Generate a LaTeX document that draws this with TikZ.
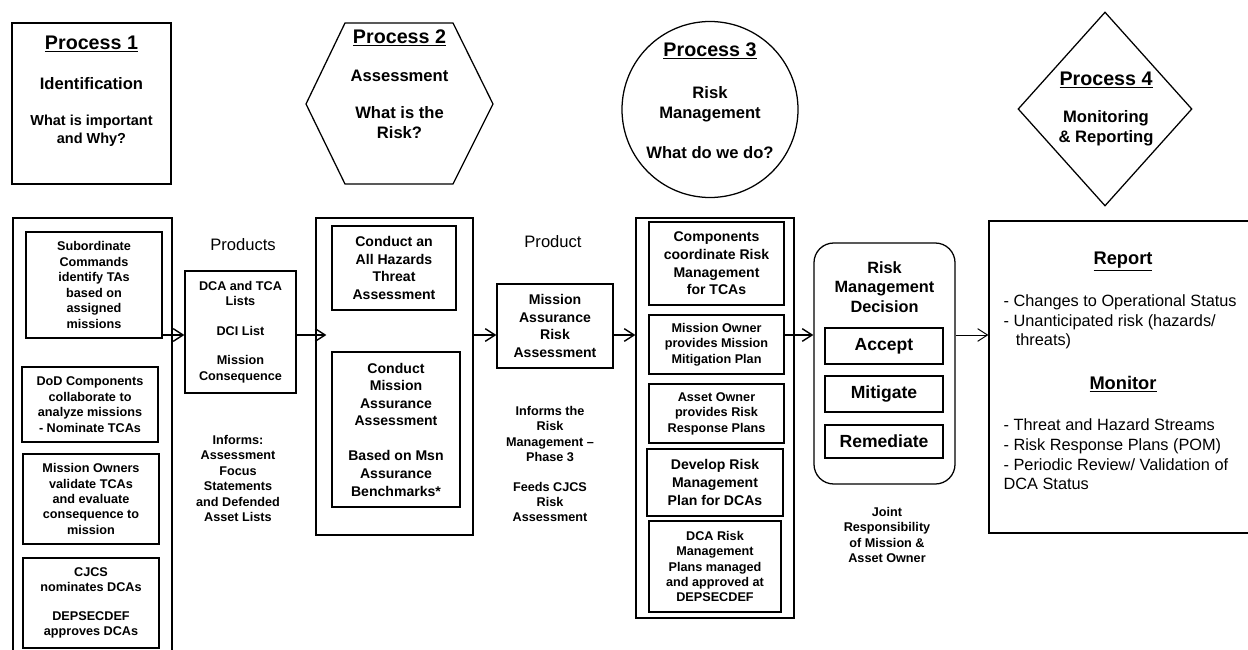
\documentclass[tikz,border=0pt]{standalone}
\usepackage{fontspec}
\setmainfont{Liberation Sans}
\usetikzlibrary{arrows.meta,positioning,shapes.geometric,calc}
\newcommand{\fsz}[2]{\fontsize{#1}{#2}\selectfont}

\begin{document}
\begin{tikzpicture}[x=0.025cm,y=-0.025cm,line width=0.9pt,
  sz/.style 2 args={minimum width=#1*0.025cm,minimum height=#2*0.025cm},
  wrap/.style={draw,inner sep=0pt},
  task/.style={draw,inner sep=0pt,align=center,font=\fsz{9}{11}\bfseries},
  taskb/.style={task,font=\fsz{10}{12.5}\bfseries},
  pick/.style={draw,inner sep=0pt,font=\fsz{12.5}{15}\bfseries},
  note/.style={align=center,inner sep=0pt,font=\fsz{9}{11}\bfseries},
  ptitle/.style={inner sep=0pt,font=\fsz{14}{17}\bfseries},
  psub/.style={align=center,inner sep=0pt,font=\fsz{11.8}{14}\bfseries},
  plain/.style={align=left,inner sep=0pt,anchor=west,font=\fsz{11.6}{14}},
  flow/.style={-{Straight Barb[length=7pt,width=9pt]},line width=1pt}]
\clip (0,0) rectangle (1248,650);
\fill[white] (0,0) rectangle (1248,650);

% process shapes
\node[wrap,sz={159}{161}] (p1) at (91.5,103.5) {};
\node[ptitle] (p1t) at (91.5,44) {\underline{Process 1}};
\node[psub] (p1s) at (91.5,84) {Identification};
\node[psub,font=\fsz{10.3}{12.8}\bfseries] (p1q) at (91.5,131) {What is important\\and Why?};

\draw (306,104) -- (345,23) -- (453,23) -- (493,104) -- (453,184) -- (345,184) -- cycle;
\node[ptitle] (p2t) at (399.5,38) {\underline{Process 2}};
\node[psub] (p2s) at (399.5,76) {Assessment};
\node[psub] (p2q) at (399.5,122.5) {What is the\\Risk?};

\node[draw,circle,inner sep=0pt,minimum size=176*0.025cm] (p3) at (710,109.5) {};
\node[ptitle] (p3t) at (710,51) {\underline{Process 3}};
\node[psub] (p3s) at (710,104) {Risk\\Management};
\node[psub] (p3q) at (710,153) {What do we do?};

\node[draw,diamond,inner sep=0pt,sz={174}{194}] (p4) at (1105,109) {};
\node[ptitle] (p4t) at (1106,80) {\underline{Process 4}};
\node[psub] (p4s) at (1106,128) {Monitoring\\\& Reporting};

% identification column
\node[wrap,sz={159}{482}] (s1) at (92.5,459) {};
\node[task,sz={136}{106}] (a1) at (94,285) {Subordinate\\Commands\\identify TAs\\based on\\assigned\\missions};
\node[task,sz={136}{75}] (a2) at (90,404.5) {DoD Components\\collaborate to\\analyze missions\\- Nominate TCAs};
\node[task,sz={136}{90}] (a3) at (91,499) {Mission Owners\\validate TCAs\\and evaluate\\consequence to\\mission};
\node[task,sz={136}{90}] (a4) at (91,603) {CJCS\\nominates DCAs\\[9.5pt]DEPSECDEF\\approves DCAs};

\node[inner sep=0pt,font=\fsz{11.8}{14}] (prodl) at (243,245) {Products};
\node[task,sz={111}{122}] (prod) at (240.5,332) {DCA and TCA\\Lists\\[10pt]DCI List\\[10pt]Mission\\Consequence};
\node[note] (inf1) at (238,478.5) {Informs:\\Assessment\\Focus\\Statements\\and Defended\\Asset Lists};

% assessment column
\node[wrap,sz={157}{317}] (s2) at (394.5,376.5) {};
\node[taskb,sz={124}{84}] (b1) at (394,268) {Conduct an\\All Hazards\\Threat\\Assessment};
\node[taskb,sz={128}{155}] (b2) at (396,429.5) {Conduct\\Mission\\Assurance\\Assessment\\[12.5pt]Based on Msn\\Assurance\\Benchmarks*};

\node[inner sep=0pt,font=\fsz{11.8}{14}] (marl) at (553,242) {Product};
\node[taskb,sz={116}{84}] (mara) at (555,326) {Mission\\Assurance\\Risk\\Assessment};
\node[note] (inf2) at (550,464) {Informs the\\Risk\\Management –\\Phase 3\\[10pt]Feeds CJCS\\Risk\\Assessment};

% risk management column
\node[wrap,sz={158}{400}] (s3) at (715,418) {};
\node[taskb,sz={135}{83}] (c1) at (716.5,263.5) {Components\\coordinate Risk\\Management\\for TCAs};
\node[task,sz={135}{59}] (c2) at (716.5,344.5) {Mission Owner\\provides Mission\\Mitigation Plan};
\node[task,sz={135}{59}] (c3) at (716.5,413.5) {Asset Owner\\provides Risk\\Response Plans};
\node[taskb,sz={136}{67}] (c4) at (715,482.5) {Develop Risk\\Management\\Plan for DCAs};
\node[task,sz={132}{91}] (c5) at (715,566.5) {DCA Risk\\Management\\Plans managed\\and approved at\\DEPSECDEF};

\node[draw,rounded corners=14pt,inner sep=0pt,sz={141}{241}] (dec) at (884.5,363.5) {};
\node[psub,font=\fsz{11.6}{14}\bfseries] (dect) at (884.5,287) {Risk\\Management\\Decision};
\node[pick,sz={118}{36}] (acc) at (884,346) {Accept};
\node[pick,sz={118}{36}] (mit) at (884,394) {Mitigate};
\node[pick,sz={118}{33}] (rem) at (884,441.5) {Remediate};
\node[note] (joint) at (887,535) {Joint\\Responsibility\\of Mission \&\\Asset Owner};

% monitoring and reporting
\node[wrap,sz={280}{312}] (rep) at (1129,377) {};
\node[ptitle,font=\fsz{13}{15}\bfseries] (rept) at (1123,262) {\underline{Report}};
\node[plain] (repl) at (1003,322) {- Changes to Operational Status\\- Unanticipated risk (hazards/\\\hspace*{0.75em}threats)};
\node[ptitle,font=\fsz{13}{15}\bfseries] (mont) at (1123,384) {\underline{Monitor}};
\node[plain] (monl) at (1003,454.5) {- Threat and Hazard Streams\\- Risk Response Plans (POM)\\- Periodic Review/ Validation of\\DCA Status};

% connectors
\coordinate (row) at (0,335);
\draw[flow] (a1.east |- row) -- (prod.west |- row);
\draw[flow] (prod.east |- row) -- ($(s2.west |- row)+(11,0)$);
\draw[flow] (s2.east |- row) -- (mara.west |- row);
\draw[flow] (mara.east |- row) -- (s3.west |- row);
\draw[flow] (c2.east |- row) -- (dec.west |- row);
\draw[flow,line width=0.7pt] (dec.east |- row) -- (rep.west |- row);
\end{tikzpicture}
\end{document}
